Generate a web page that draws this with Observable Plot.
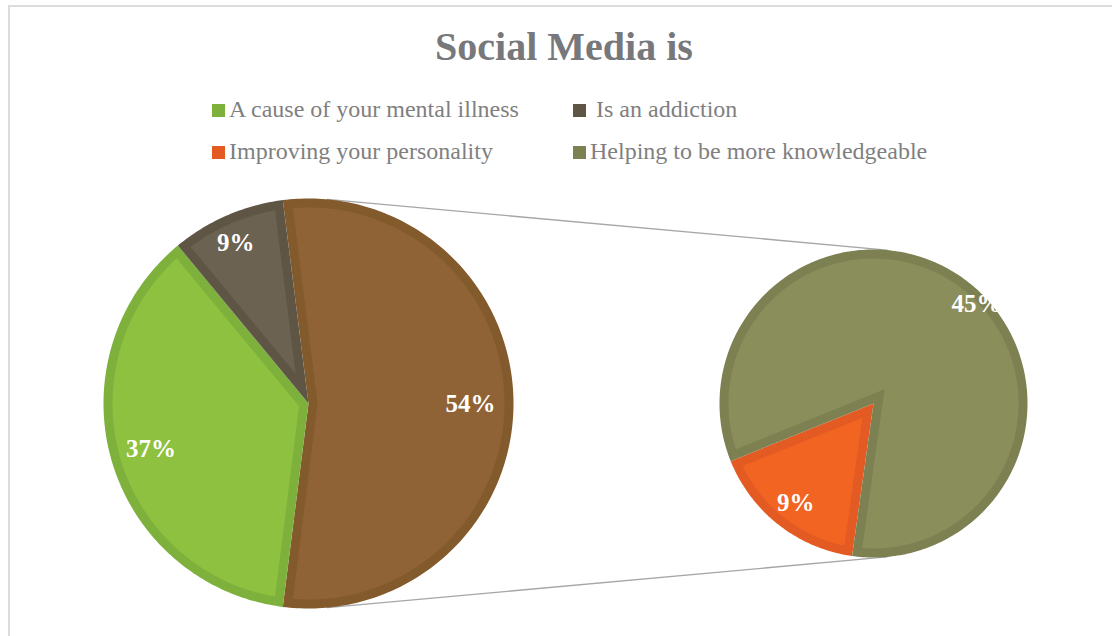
<!DOCTYPE html>
<html><head><meta charset="utf-8">
<script src="https://cdn.jsdelivr.net/npm/d3@7"></script>
<script src="https://cdn.jsdelivr.net/npm/@observablehq/plot@0.6"></script>
<style>
body{margin:0;background:#fff;font-family:"Liberation Serif","Times New Roman",serif;}
#wrap{position:relative;width:1112px;height:636px;overflow:hidden;background:#fff;}
#frame{position:absolute;left:8px;top:5px;width:1200px;height:700px;border:2px solid #dcdcdc;box-sizing:border-box;}
#title{position:absolute;left:0;width:1128px;top:27px;text-align:center;font-size:40px;line-height:40px;font-weight:bold;color:#77787b;}
.lg{position:absolute;font-size:24px;line-height:24px;color:#7f7f7f;white-space:pre;}
.sw{display:inline-block;width:13px;height:13px;margin-right:4px;}
#chart{position:absolute;left:0;top:185px;}
</style></head><body>
<div id="wrap"><div id="title"></div><div id="legend"></div><div id="chart"></div><div id="frame"></div></div>
<script>
// ---- data ----
const title = "Social Media is";
const categories = ["A cause of your mental illness", " Is an addiction", "Improving your personality", "Helping to be more knowledgeable"];
const values = [37, 9, 9, 45];
const otherLabel = "Other";
// indices of categories split into the secondary pie
const secondaryIdx = [2, 3];

// ---- styles ----
const fillColors   = ["#8DC13F", "#6B6252", "#F26422", "#8A8E5B"];
const borderColors = ["#7DB13C", "#5E5545", "#E35A22", "#7D8152"];
const otherFill = "#8F6335", otherBorder = "#835A2C";

// ---- layout ----
const W = 1112, H = 440, TOP = 185;
const main = {cx: 308, cy: 403, R: 205};
const sec  = {cx: 873, cy: 403, R: 154};
const inset = 9;
const secStart = 188;

const rad = Math.PI / 180;
function pt(c, a, r) { return [c.cx + r * Math.sin(a * rad), c.cy - r * Math.cos(a * rad)]; }
function wedge(c, a0, a1, d) {
  const pts = [];
  if (d === 0) {
    pts.push([c.cx, c.cy]);
    const n = Math.max(2, Math.ceil(a1 - a0));
    for (let i = 0; i <= n; i++) pts.push(pt(c, a0 + (a1 - a0) * i / n, c.R));
  } else {
    const half = (a1 - a0) / 2;
    pts.push(pt(c, a0 + half, d / Math.sin(half * rad)));
    const r = c.R - d;
    const delta = Math.asin(d / r) / rad;
    const b0 = a0 + delta, b1 = a1 - delta;
    const n = Math.max(2, Math.ceil(b1 - b0));
    for (let i = 0; i <= n; i++) pts.push(pt(c, b0 + (b1 - b0) * i / n, r));
  }
  pts.push(pts[0]);
  return pts;
}

const total = d3.sum(values);
const otherValue = d3.sum(secondaryIdx, i => values[i]);
// main pie: "other" slice centred on the right (90deg), then the remaining categories clockwise
const mainSlices = [{key: otherLabel, value: otherValue, fill: otherFill, border: otherBorder, lf: 0.79, la: 0}];
values.forEach((v, i) => { if (!secondaryIdx.includes(i)) mainSlices.push({key: categories[i], value: v, fill: fillColors[i], border: borderColors[i], lf: i === 1 ? 0.86 : 0.8, la: i === 1 ? -1 : 0}); });
let a = 90 - otherValue / total * 180;
for (const s of mainSlices) { s.c = main; s.a0 = a; a += s.value / total * 360; s.a1 = a; }
// secondary pie
const secSlices = secondaryIdx.map(i => ({key: categories[i], value: values[i], fill: fillColors[i], border: borderColors[i], lf: i === 2 ? 0.82 : 0.93, la: i === 2 ? 0 : 8}));
a = secStart;
for (const s of secSlices) { s.c = sec; s.a0 = a; a += s.value / otherValue * 360; s.a1 = a; }

const slices = mainSlices.concat(secSlices);
const rows = [];
slices.forEach((s, k) => {
  wedge(s.c, s.a0, s.a1, 0).forEach(([x, y]) => rows.push({x, y, id: k + "o", color: s.border}));
  wedge(s.c, s.a0, s.a1, inset).forEach(([x, y]) => rows.push({x, y, id: k + "i", color: s.fill}));
});
const labels = slices.map(s => {
  const [x, y] = pt(s.c, (s.a0 + s.a1) / 2 + s.la, s.c.R * s.lf);
  return {x, y, text: Math.round(s.value) + "%"};
});
// connector lines between the pies
const conn = [];
[[5.3, 5], [174.7, 175]].forEach(([am, as], j) => {
  const p = pt(main, am, main.R), q = pt(sec, as, sec.R);
  conn.push({x: p[0], y: p[1], id: j}, {x: q[0], y: q[1], id: j});
});

const chart = Plot.plot({
  width: W, height: H, margin: 0,
  x: {domain: [0, W], range: [0, W], axis: null},
  y: {domain: [TOP, TOP + H], range: [0, H], axis: null},
  color: {type: "identity"},
  style: {background: "transparent", overflow: "visible"},
  marks: [
    Plot.line(conn, {x: "x", y: "y", z: "id", stroke: "#a6a6a6", strokeWidth: 1.3}),
    Plot.line(rows, {x: "x", y: "y", z: "id", fill: "color", stroke: "none", curve: "linear"}),
    Plot.text(labels, {x: "x", y: "y", text: "text", fill: "white", fontSize: 25, fontWeight: "bold", fontFamily: "Liberation Serif"})
  ]
});
document.getElementById("chart").appendChild(chart);

document.getElementById("title").textContent = title;
const legendPos = [[212, 97], [573, 97], [212, 139], [573, 139]];
const lg = document.getElementById("legend");
categories.forEach((c, i) => {
  const d = document.createElement("div");
  d.className = "lg";
  d.style.left = legendPos[i][0] + "px";
  d.style.top = legendPos[i][1] + "px";
  const sw = document.createElement("span");
  sw.className = "sw";
  sw.style.background = borderColors[i];
  d.appendChild(sw);
  d.appendChild(document.createTextNode(c));
  lg.appendChild(d);
});
</script>
</body></html>
